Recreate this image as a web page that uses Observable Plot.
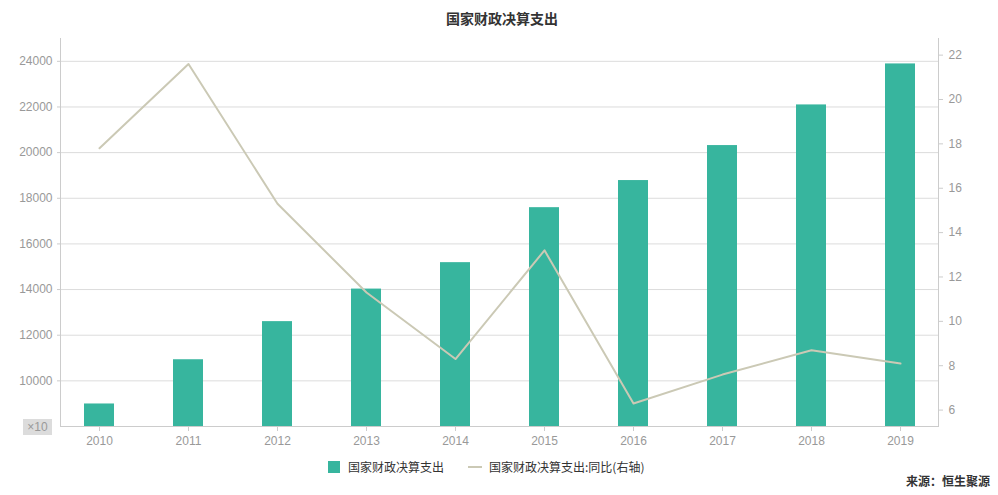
<!DOCTYPE html>
<html>
<head>
<meta charset="utf-8">
<script src="https://cdn.jsdelivr.net/npm/d3@7"></script>
<script src="https://cdn.jsdelivr.net/npm/@observablehq/plot@0.6"></script>
<style>
  body { margin: 0; background: #fff; }
  #wrap { position: relative; width: 998px; height: 495px; font-family: "Liberation Sans", "Noto Sans CJK SC", sans-serif; }
  .abs { position: absolute; white-space: nowrap; }
  #title { left: 0; width: 1004px; top: 8px; text-align: center; font: bold 14px "Noto Sans CJK SC", sans-serif; color: #333; }
  #legend { left: 328px; top: 458px; font: 12px "Noto Sans CJK SC", sans-serif; color: #333; display: flex; align-items: center; }
  .sw { display: inline-block; width: 12px; height: 12px; background: #37b59e; margin-right: 8px; }
  .ln { display: inline-block; width: 14px; height: 2px; background: #cbc9b5; margin-right: 7px; margin-left: 24px; }
  #source { right: 8px; top: 472px; font: bold 12px "Noto Sans CJK SC", sans-serif; color: #333; }
  #unit { left: 23px; top: 419px; width: 29px; height: 16px; background: #dcdcdc; color: #999; font: 12px "Liberation Sans", sans-serif; text-align: center; line-height: 16px; }
</style>
</head>
<body>
<div id="wrap">
  <div id="chart"></div>
  <div id="title" class="abs">国家财政决算支出</div>
  <div id="unit" class="abs">×10</div>
  <div id="legend" class="abs"><span class="sw"></span><span>国家财政决算支出</span><span class="ln"></span><span>国家财政决算支出:同比(右轴)</span></div>
  <div id="source" class="abs">来源：恒生聚源</div>
</div>
<script>
const years = ["2010","2011","2012","2013","2014","2015","2016","2017","2018","2019"];
const expenditure = [8987, 10925, 12595, 14021, 15179, 17588, 18776, 20309, 22090, 23886];
const growth = [17.8, 21.6, 15.3, 11.3, 8.3, 13.2, 6.3, 7.6, 8.7, 8.1];
const leftTicks = [10000, 12000, 14000, 16000, 18000, 20000, 22000, 24000];
const rightTicks = [6, 8, 10, 12, 14, 16, 18, 20, 22];

const data = years.map((y, i) => ({year: y, value: expenditure[i], growth: growth[i]}));

// map right-axis values into the left-axis domain
const toLeft = d3.scaleLinear().domain([5.26, 22.75]).range([8000, 25000]);

const chart = Plot.plot({
  width: 998,
  height: 495,
  marginLeft: 60,
  marginRight: 60,
  marginTop: 38,
  marginBottom: 69,
  style: {fontFamily: "Liberation Sans, sans-serif", fontSize: "12px", color: "#999", background: "#fff"},
  x: {type: "band", domain: years, paddingInner: 0.663, paddingOuter: 0.264},
  y: {domain: [8000, 25000], nice: false},
  marks: [
    Plot.gridY(leftTicks, {stroke: "#dcdcdc", strokeOpacity: 1}),
    Plot.barY(data, {x: "year", y1: 8000, y2: "value", fill: "#37b59e"}),
    Plot.ruleY([8000], {stroke: "#ccc"}),
    Plot.frame({anchor: "left", stroke: "#ccc"}),
    Plot.frame({anchor: "right", stroke: "#ccc"}),
    Plot.line(data, {x: "year", y: d => toLeft(d.growth), stroke: "#cbc9b5", strokeWidth: 2}),
    Plot.axisY(leftTicks, {anchor: "left", tickSize: 3, tickPadding: 5, stroke: "#ccc", fill: "#999", fontSize: 12, label: null, tickFormat: d => String(d)}),
    Plot.axisY(rightTicks.map(t => toLeft(t)), {anchor: "right", tickSize: 4, tickPadding: 6, stroke: "#ccc", fill: "#999", fontSize: 12, label: null, tickFormat: v => String(Math.round(toLeft.invert(v)))}),
    Plot.axisX({tickSize: 5, tickPadding: 5, stroke: "#ccc", fill: "#999", fontSize: 12, label: null})
  ]
});
document.getElementById("chart").appendChild(chart);
</script>
</body>
</html>
